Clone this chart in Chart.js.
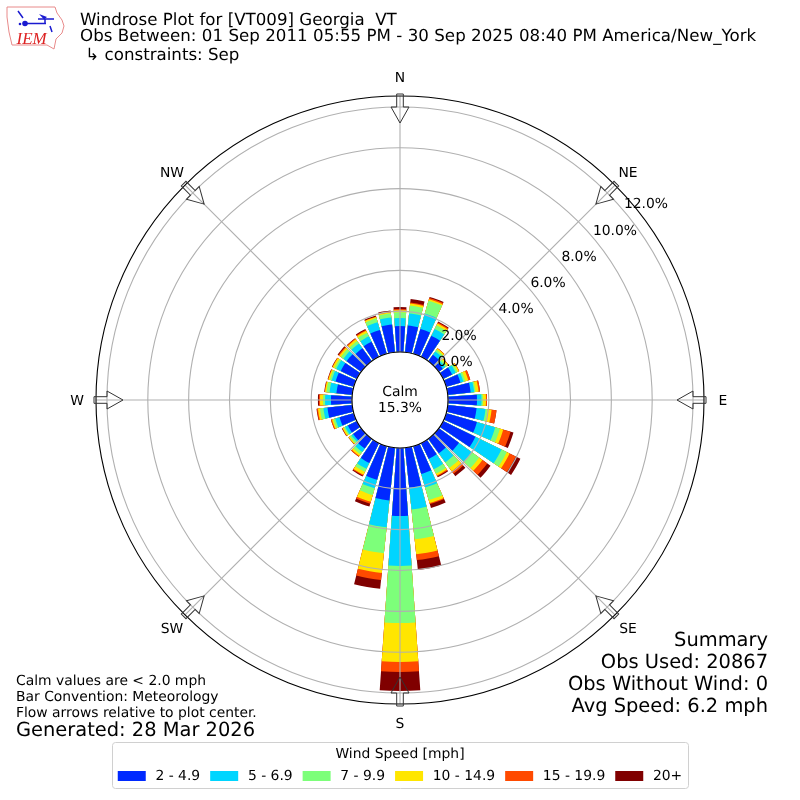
<!DOCTYPE html>
<html>
<head>
<meta charset="utf-8">
<style>html,body{margin:0;padding:0;background:#fff}canvas{display:block}</style>
<script src="https://cdn.jsdelivr.net/npm/chart.js@4/dist/chart.umd.min.js"></script>
</head>
<body>
<canvas id="c" width="800" height="800"></canvas>
<script>
const directions = [0,10,20,30,40,50,60,70,80,90,100,110,120,130,140,150,160,170,180,190,200,210,220,230,240,250,260,270,280,290,300,310,320,330,340,350];
const speedBins = ['2 - 4.9','5 - 6.9','7 - 9.9','10 - 14.9','15 - 19.9','20+'];
const binColors = ['#0029ff','#00d5ff','#7dff7a','#ffe600','#ff4a00','#800000'];
const bin2to5   = [1.27,1.32,1.27,1.15,0.39,0.24,0.49,0.73,1.13,1.42,1.42,1.57,1.76,1.22,0.88,0.86,1.42,1.96,3.33,2.60,1.71,1.08,0.59,0.49,0.49,0.73,1.22,1.03,0.78,0.93,0.88,0.88,0.78,0.83,1.22,1.37];
const bin5to7   = [0.39,0.59,0.78,0.37,0.20,0.15,0.20,0.15,0.17,0.22,0.44,0.93,1.42,0.78,0.54,0.56,0.69,1.08,2.45,1.32,0.44,0.32,0.20,0.10,0.15,0.22,0.20,0.29,0.34,0.20,0.24,0.20,0.29,0.29,0.39,0.34];
const bin7to10  = [0.29,0.39,0.66,0.20,0.10,0.10,0.10,0.10,0.07,0.07,0.10,0.24,0.29,0.44,0.34,0.24,0.64,1.47,2.79,1.27,0.34,0.17,0.15,0.10,0.07,0.10,0.17,0.10,0.15,0.10,0.10,0.15,0.15,0.20,0.20,0.20];
const bin10to15 = [0.10,0.10,0.07,0.10,0.07,0.07,0.07,0.15,0.15,0.15,0.20,0.17,0.15,0.20,0.20,0.10,0.15,0.73,1.91,0.98,0.34,0.15,0.10,0.07,0.07,0.07,0.10,0.15,0.07,0.07,0.10,0.10,0.10,0.10,0.07,0.05];
const bin15to20 = [0.05,0.05,0.07,0.05,0.02,0.02,0.02,0.10,0.07,0.05,0.24,0.37,0.34,0.29,0.15,0.05,0.05,0.29,0.49,0.34,0.10,0.05,0.05,0.00,0.02,0.05,0.05,0.05,0.02,0.02,0.02,0.05,0.05,0.05,0.02,0.05];
const bin20plus = [0.10,0.17,0.05,0.05,0.00,0.00,0.00,0.00,0.00,0.00,0.00,0.15,0.25,0.20,0.15,0.05,0.20,0.49,0.93,0.44,0.15,0.05,0.00,0.02,0.02,0.00,0.02,0.05,0.02,0.02,0.02,0.05,0.02,0.05,0.05,0.05];
const tickValues = [0,2,4,6,8,10,12];
const tickLabels = ['0.0%','2.0%','4.0%','6.0%','8.0%','10.0%','12.0%'];
const tickLabelX = [455,459,516,548,579,615,646];
const tickLabelY = [361,335,308,282,256,230,203];
const compass = [['N',0],['NE',45],['E',90],['SE',135],['S',180],['SW',225],['W',270],['NW',315]];
const titleMain = 'Windrose Plot for [VT009] Georgia  VT';
const titlePeriod = 'Obs Between: 01 Sep 2011 05:55 PM - 30 Sep 2025 08:40 PM America/New_York';
const titleConstraint = ' \u21b3 constraints: Sep';
const notes = ['Calm values are < 2.0 mph','Bar Convention: Meteorology','Flow arrows relative to plot center.'];
const generated = 'Generated: 28 Mar 2026';
const summary = ['Summary','Obs Used: 20867','Obs Without Wind: 0','Avg Speed: 6.2 mph'];
const calm = ['Calm','15.3%'];

const FONT = '"DejaVu Sans"';
const R_MIN = -2.3506, R_MAX = 12.537;
const BAR_DEG = 8, GAP_DEG = 2;
const bins = [bin2to5,bin5to7,bin7to10,bin10to15,bin15to20,bin20plus];

// each bar is followed by an empty gap slot; stacks are drawn as nested cumulative arcs
const labels = [];
directions.forEach(d => { labels.push(d + '\u00b0'); labels.push(''); });
const running = directions.map(() => 0);
const datasets = bins.map((bin, k) => {
  const data = [];
  bin.forEach((v, i) => { running[i] += v; data.push(+running[i].toFixed(3)); data.push(R_MIN); });
  return { label: speedBins[k], data, backgroundColor: binColors[k], borderWidth: 0, clip: false,
           angle: ctx => (ctx.dataIndex % 2 ? GAP_DEG : BAR_DEG) };
});

function txt(ctx, s, x, y, size, align, color) {
  ctx.font = size + 'px ' + FONT;
  ctx.textAlign = align || 'left';
  ctx.textBaseline = 'middle';
  ctx.fillStyle = color || '#000';
  ctx.fillText(s, x, y + 1);
}

function drawLogo(ctx) {
  ctx.save();
  ctx.strokeStyle = '#e88a8a'; ctx.lineWidth = 1;
  const o = [[7,7],[55,7],[57,13],[62,20],[64,26],[62,33],[56,39],[54,49],[47,45],[12,45],[9,32],[7,17]];
  ctx.beginPath();
  o.forEach((p, i) => i ? ctx.lineTo(p[0], p[1]) : ctx.moveTo(p[0], p[1]));
  ctx.closePath(); ctx.stroke();
  ctx.strokeStyle = '#1a1ad0'; ctx.fillStyle = '#1a1ad0'; ctx.lineWidth = 1.5;
  ctx.beginPath(); ctx.moveTo(25,23.5); ctx.lineTo(46,23.5); ctx.moveTo(18,11); ctx.lineTo(23,18);
  ctx.moveTo(38,19); ctx.lineTo(54,19); ctx.moveTo(45,19); ctx.lineTo(45,24); ctx.moveTo(50,26); ctx.lineTo(52,32); ctx.stroke();
  ctx.beginPath(); ctx.arc(25,23.5,2.8,0,Math.PI*2); ctx.fill();
  ctx.beginPath(); ctx.moveTo(39,14); ctx.lineTo(47,17); ctx.lineTo(44,19.5); ctx.closePath(); ctx.fill();
  ctx.beginPath(); ctx.arc(20,24,1.3,0,Math.PI*2); ctx.fill();
  ctx.font = 'italic 17px "Liberation Serif"';
  ctx.fillStyle = '#d22'; ctx.textAlign = 'left'; ctx.textBaseline = 'alphabetic';
  ctx.fillText('IEM', 16.5, 44);
  ctx.restore();
}

const layoutFix = {
  id: 'layoutFix',
  beforeLayout(chart) { chart.ctx.textRendering = 'geometricPrecision'; },
  beforeDraw(chart) { chart.ctx.textRendering = 'geometricPrecision'; },
  afterLayout(chart) {
    const s = chart.scales.r;
    s.xCenter = 400; s.yCenter = 400; s.drawingArea = 304;
  }
};

const decor = {
  id: 'decor',
  afterDraw(chart) {
    const ctx = chart.ctx, s = chart.scales.r, cx = s.xCenter, cy = s.yCenter, R = s.drawingArea;
    const hole = s.getDistanceFromCenterForValue(0);
    ctx.save();
    compass.forEach(([, a]) => {
      const t = a * Math.PI / 180;
      ctx.strokeStyle = '#b0b0b0'; ctx.lineWidth = 1.11;
      ctx.beginPath(); ctx.moveTo(cx, cy); ctx.lineTo(cx + R * Math.sin(t), cy - R * Math.cos(t)); ctx.stroke();
    });
    ctx.strokeStyle = '#000'; ctx.lineWidth = 1.11;
    ctx.beginPath(); ctx.arc(cx, cy, R, 0, Math.PI * 2); ctx.stroke();
    ctx.fillStyle = '#fff';
    ctx.beginPath(); ctx.arc(cx, cy, hole, 0, Math.PI * 2); ctx.fill(); ctx.stroke();
    compass.forEach(([name, a]) => {
      ctx.save();
      ctx.translate(cx, cy); ctx.rotate(a * Math.PI / 180);
      ctx.strokeStyle = '#333'; ctx.lineWidth = 1;
      ctx.beginPath();
      ctx.moveTo(0, -277); ctx.lineTo(-9, -293); ctx.lineTo(-3.3, -293); ctx.lineTo(-3.3, -306);
      ctx.lineTo(3.3, -306); ctx.lineTo(3.3, -293); ctx.lineTo(9, -293); ctx.closePath();
      ctx.stroke();
      ctx.restore();
      const t = a * Math.PI / 180, rr = (a % 90) ? 322.5 : 323;
      txt(ctx, name, cx + rr * Math.sin(t), cy - rr * Math.cos(t), 13.89, 'center');
    });
    tickLabels.forEach((l, i) => txt(ctx, l, tickLabelX[i], tickLabelY[i], 13.89, 'center'));
    txt(ctx, calm[0], cx, 391, 13.89, 'center');
    txt(ctx, calm[1], cx, 407, 13.89, 'center');
    notes.forEach((n, i) => txt(ctx, n, 16, 680 + i * 16, 13.89));
    txt(ctx, generated, 16, 730, 19.44);
    summary.forEach((n, i) => txt(ctx, n, 768, 640 + i * 22, 19.44, 'right'));
    ctx.letterSpacing = '0.03px';
    txt(ctx, titlePeriod, 80, 36, 16.67);
    ctx.letterSpacing = '0px';
    txt(ctx, titleConstraint, 80, 54.5, 16.67);
    ctx.strokeStyle = '#d0d0d0'; ctx.lineWidth = 1;
    ctx.beginPath(); ctx.roundRect(112.5, 742.5, 576, 46, 3); ctx.stroke();
    drawLogo(ctx);
    ctx.restore();
  }
};

new Chart(document.getElementById('c').getContext('2d'), {
  type: 'polarArea',
  data: { labels, datasets },
  plugins: [layoutFix, decor],
  options: {
    responsive: false,
    animation: false,
    devicePixelRatio: 1,
    layout: { padding: { left: 80, right: 80, top: 12, bottom: 7 } },
    scales: {
      r: {
        min: R_MIN, max: R_MAX, startAngle: -BAR_DEG / 2,
        afterBuildTicks: sc => { sc.ticks = tickValues.map(v => ({ value: v })); },
        ticks: { display: false },
        angleLines: { display: false },
        pointLabels: { display: false },
        grid: { circular: true, color: '#b0b0b0', lineWidth: 1.11, z: 1 }
      }
    },
    plugins: {
      tooltip: { enabled: false },
      title: {
        display: true, text: titleMain, align: 'start', color: '#000',
        font: { family: FONT, size: 16.67, weight: 'normal', lineHeight: 1.07 },
        padding: { top: 0, bottom: 4 }
      },
      legend: {
        display: true, position: 'bottom', align: 'center',
        title: { display: true, text: 'Wind Speed [mph]', color: '#000', font: { family: FONT, size: 13.89 }, padding: { top: 4, bottom: -5 } },
        labels: {
          boxWidth: 28, boxHeight: 10, padding: 10, color: '#000',
          font: { family: FONT, size: 13.89 },
          generateLabels: () => speedBins.map((t, i) => ({ text: '\u2009' + t, fillStyle: binColors[i], strokeStyle: binColors[i], lineWidth: 0, hidden: false, datasetIndex: i }))
        }
      }
    }
  }
});
</script>
</body>
</html>
